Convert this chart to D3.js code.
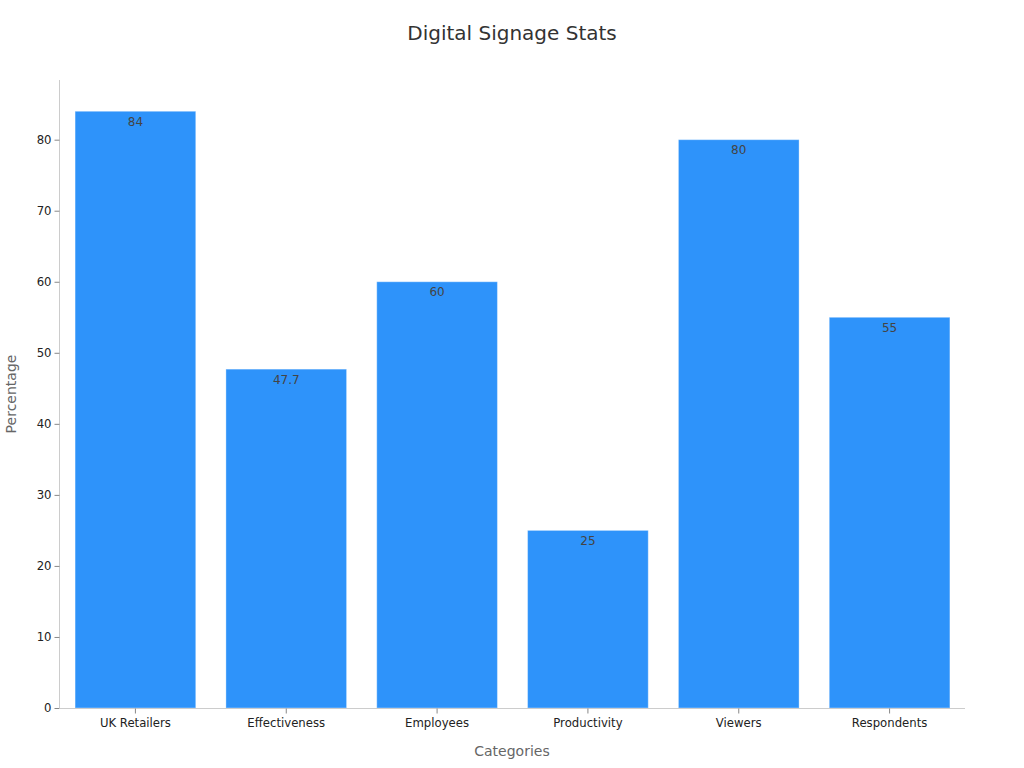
<!DOCTYPE html>
<html><head><meta charset="utf-8">
<script src="https://cdn.jsdelivr.net/npm/d3@7"></script>
<style>body{margin:0;background:#fff;font-family:"DejaVu Sans",sans-serif;}</style>
</head><body><svg id="c" width="1024" height="768"></svg>
<script>
const categories = ["UK Retailers","Effectiveness","Employees","Productivity","Viewers","Respondents"];
const values = [84, 47.7, 60, 25, 80, 55];
const yTicks = [0,10,20,30,40,50,60,70,80];

const svg = d3.select("#c");
const m = {l:60, r:59, t:80, b:60};
const W = 1024, H = 768;
const x = d3.scaleBand().domain(categories).range([m.l, W-m.r]).paddingInner(0.2).paddingOuter(0.1);
const y = d3.scaleLinear().domain([0, 88.4]).range([H-m.b, m.t]);

svg.append("text").attr("x",512).attr("y",40).attr("text-anchor","middle")
  .attr("font-size",20).attr("fill","#333").text("Digital Signage Stats");

svg.selectAll("rect.bar").data(values).join("rect").attr("class","bar")
  .attr("x",(d,i)=>x(categories[i])).attr("width",x.bandwidth())
  .attr("y",d=>y(d)).attr("height",d=>y(0)-y(d))
  .attr("fill","#2e93fa").attr("stroke","rgba(255,255,255,0.35)").attr("stroke-width",1);

svg.selectAll("text.val").data(values).join("text").attr("class","val")
  .attr("x",(d,i)=>x(categories[i])+x.bandwidth()/2).attr("y",d=>y(d)+14.5)
  .attr("text-anchor","middle").attr("font-size",12).attr("fill","#444").text(d=>d);

const ya = svg.append("g").attr("transform",`translate(${m.l-0.5},0)`)
  .call(d3.axisLeft(y).tickValues(yTicks).tickSize(5).tickPadding(3));
const xa = svg.append("g").attr("transform",`translate(0,${H-m.b+0.5})`)
  .call(d3.axisBottom(x).tickSize(5).tickPadding(5));
[ya,xa].forEach(g=>{
  g.select(".domain").attr("stroke","#ccc");
  g.selectAll(".tick line").attr("stroke","#888");
  g.selectAll(".tick text").attr("font-family","DejaVu Sans").attr("font-size",11.7).attr("fill","#222");
});
ya.select(".domain").attr("d",`M-0,${m.t}V${H-m.b}`);
xa.select(".domain").attr("d",`M${m.l},0H${W-m.r}`);

svg.append("text").attr("x",512).attr("y",756).attr("text-anchor","middle")
  .attr("font-size",14).attr("fill","#666").text("Categories");
svg.append("text").attr("transform","translate(16,394) rotate(-90)").attr("text-anchor","middle")
  .attr("font-size",14).attr("fill","#666").text("Percentage");
</script></body></html>
